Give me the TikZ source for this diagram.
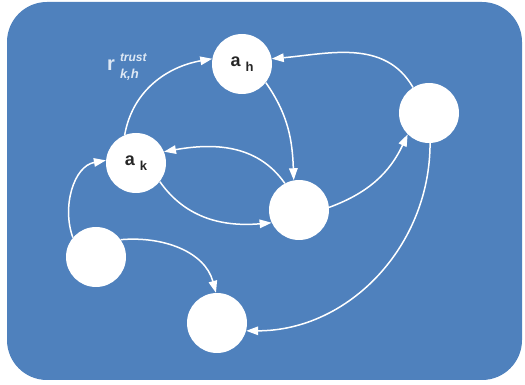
\documentclass[tikz,border=0pt]{standalone}
\usepackage{fontspec}
\setmainfont{Liberation Sans}
\usetikzlibrary{arrows.meta}
\definecolor{panelblue}{RGB}{79,129,189}
\definecolor{labelwhite}{RGB}{222,232,244}
\tikzset{
    agentnode/.style={
        circle,fill=white,minimum size=60pt,inner sep=0pt,text=black!85,font=\bfseries\fontsize{18}{18}\selectfont
    },
    link/.style={
        draw=white,line width=1.5pt,-{Triangle[length=12pt,width=8.5pt,fill=white]}
    }
}

\begin{document}
\begin{tikzpicture}[x=1pt,y=1pt]
\useasboundingbox (0,0) rectangle (525,385);
\fill[panelblue,rounded corners=40pt] (7,5) rectangle (522,383);
\node[agentnode] (ah) at (242,321) {a\hspace{5pt}\raisebox{-5pt}{\fontsize{13}{13}\selectfont h}};
\node[agentnode] (ak) at (136,222) {a\hspace{5pt}\raisebox{-5pt}{\fontsize{13}{13}\selectfont k}};
\node[agentnode] (mid) at (299,175) {};
\node[agentnode] (east) at (429,272) {};
\node[agentnode] (west) at (96,128) {};
\node[agentnode] (south) at (217,62) {};
\node[text=labelwhite,font=\bfseries\fontsize{20}{20}\selectfont] (trust) at (123,318)
    {r\hspace{5pt}\raisebox{9pt}{\rlap{\itshape\fontsize{12}{12}\selectfont trust}}\raisebox{-8pt}{\itshape\fontsize{13}{13}\selectfont k,h}};
% links between the agents
\draw[link] (ak.112) to[out=80,in=190] (ah.170);
\draw[link] (ah.-38) to[out=-55,in=92] (mid.100);
\draw[link] (east.122) to[out=120,in=5] (ah.10);
\draw[link] (mid.118) to[out=125,in=10] (ak.22);
\draw[link] (ak.-38) to[out=-55,in=185] (mid.205);
\draw[link] (mid.5) to[out=20,in=245] (east.225);
\draw[link] (west.140) to[out=110,in=190] (ak.175);
\draw[link] (west.35) to[out=5,in=105] (south.92);
\draw[link] (east.-88) to[out=-90,in=0] (south.-15);
\end{tikzpicture}
\end{document}
